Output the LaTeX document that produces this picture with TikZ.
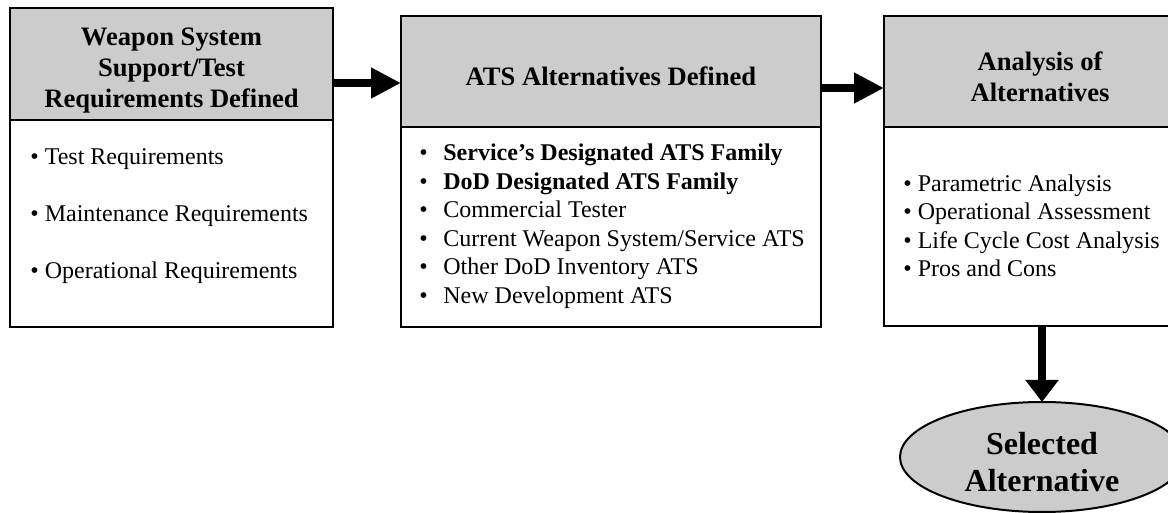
\documentclass[tikz,border=0pt]{standalone}
\usepackage{fontspec}
\setmainfont{Liberation Serif}
\usetikzlibrary{shapes.geometric, arrows.meta, positioning}
\definecolor{hdrgray}{RGB}{204,204,204}
\newcommand{\atsbul}{\makebox[12pt][l]{\textbullet}}

\begin{document}
\begin{tikzpicture}[x=0.5pt, y=-0.5pt,
    hdr/.style={draw, rectangle, fill=hdrgray, line width=1pt, inner sep=0pt, outer sep=0pt},
    hdrtext/.style={align=center, inner sep=0pt, font=\fontsize{13.3}{15.5}\selectfont\bfseries},
    body/.style={draw, rectangle, fill=white, line width=1pt, inner sep=0pt, outer sep=0pt},
    items/.style={align=left, inner sep=0pt, anchor=west},
    bigarrow/.style={line width=3.7pt, -{Triangle[length=15pt, width=14.5pt]}}]
    \useasboundingbox (0,0) rectangle (1168,513);
    \clip (0,0) rectangle (1168,513);

    % Kopfzeilen
    \node[hdr, minimum width=161.5pt, minimum height=56pt] (req) at (171.5,64) {};
    \node[hdr, minimum width=210pt, minimum height=55.5pt] (ats) at (611,71.5) {};
    \node[hdr, minimum width=156pt, minimum height=55.5pt] (aoa) at (1040,71.5) {};
    \node[hdrtext] (reqtitle) at ([yshift=-3.5pt]req.center) {Weapon System\\Support/Test\\Requirements Defined};
    \node[hdrtext] (atstitle) at ([yshift=-2.5pt]ats.center) {ATS Alternatives Defined};
    \node[hdrtext] (aoatitle) at ([yshift=-2.5pt]aoa.center) {Analysis of\\Alternatives};

    % Inhalt
    \node[body, minimum width=161.5pt, minimum height=103.5pt, below=0pt of req] (reqbody) {};
    \node[body, minimum width=210pt, minimum height=100pt, below=0pt of ats] (atsbody) {};
    \node[body, minimum width=156pt, minimum height=99.5pt, below=0pt of aoa] (aoabody) {};

    \node[items, font=\fontsize{12}{28.5}\selectfont] (reqlist) at (30,216.5)
        {\textbullet{} Test Requirements\\\textbullet{} Maintenance Requirements\\\textbullet{} Operational Requirements};
    \node[items, font=\fontsize{12}{14.25}\selectfont] (atslist) at (419,226)
        {\atsbul\textbf{Service's Designated ATS Family}\\\atsbul\textbf{DoD Designated ATS Family}\\\atsbul Commercial Tester\\
         \atsbul Current Weapon System/Service ATS\\\atsbul Other DoD Inventory ATS\\\atsbul New Development ATS};
    \node[items, font=\fontsize{12}{14.25}\selectfont] (aoalist) at (903,226)
        {\textbullet{} Parametric Analysis\\\textbullet{} Operational Assessment\\\textbullet{} Life Cycle Cost Analysis\\\textbullet{} Pros and Cons};

    % Ergebnis
    \node[draw, ellipse, fill=hdrgray, line width=1pt, inner sep=0pt, outer sep=0pt, minimum width=142pt, minimum height=55pt] (sel) at (1042,457) {};
    \node[align=center, inner sep=0pt, font=\fontsize{16}{18.5}\selectfont\bfseries] (seltitle) at ([yshift=-2.5pt]sel.center) {Selected\\Alternative};

    % Pfeile
    \draw[bigarrow] ([yshift=-9.5pt]req.east) -- ([yshift=-9.5pt]req.east -| ats.west);
    \draw[bigarrow] ([yshift=-8.25pt]ats.east) -- ([yshift=-8.25pt]ats.east -| aoa.west);
    \draw[line width=4pt, -{Triangle[length=11pt, width=16pt]}] (sel.north |- aoabody.south) -- (sel.north);
\end{tikzpicture}
\end{document}
